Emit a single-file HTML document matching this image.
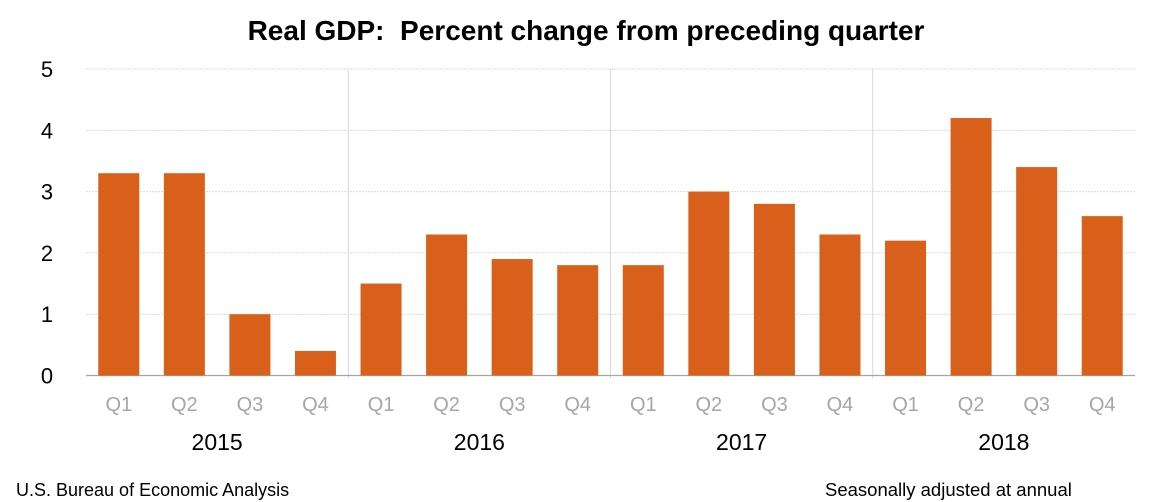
<!DOCTYPE html>
<html><head><meta charset="utf-8">
<style>
body{margin:0;background:#fff;}
svg{display:block;font-family:"Liberation Sans",sans-serif;}
</style></head>
<body>
<svg id="chart" width="1153" height="502" viewBox="0 0 1153 502">
<text x="586" y="40" text-anchor="middle" font-size="28" font-weight="bold" fill="#000" style="white-space:pre">Real GDP:  Percent change from preceding quarter</text>
<g id="grid"></g><g id="bars"></g><g id="labels"></g>
<text x="16" y="496" font-size="18" fill="#000">U.S. Bureau of Economic Analysis</text>
<text x="825" y="496" font-size="18.5" fill="#000">Seasonally adjusted at annual</text>
</svg>
<script>
const quarters=["Q1","Q2","Q3","Q4","Q1","Q2","Q3","Q4","Q1","Q2","Q3","Q4","Q1","Q2","Q3","Q4"];
const years=["2015","2016","2017","2018"];
const values=[3.3,3.3,1.0,0.4,1.5,2.3,1.9,1.8,1.8,3.0,2.8,2.3,2.2,4.2,3.4,2.6];
const yTicks=[0,1,2,3,4,5];
const NS="http://www.w3.org/2000/svg";
const x0=86,x1=1135,y0=375.5,yTop=69;
const slot=(x1-x0)/quarters.length;
const yS=v=>y0-(v/5)*(y0-yTop);
const xS=i=>x0+slot*(i+0.5);
function mk(tag,attrs,parent,txt){const e=document.createElementNS(NS,tag);for(const k in attrs)e.setAttribute(k,attrs[k]);if(txt!=null)e.textContent=txt;document.getElementById(parent).appendChild(e);return e;}
yTicks.forEach(t=>{
  if(t>0){const g=mk('line',{x1:x0,x2:x1,y1:yS(t),y2:yS(t),stroke:'#d9d9d9','stroke-dasharray':'2,1','stroke-width':1},'grid');
  
  }
  const l=mk('text',{x:47,y:yS(t)+8,'text-anchor':'middle','font-size':22,fill:'#000'},'labels',t);
  
  
});
for(let k=1;k<years.length;k++){
  const xs=x0+slot*4*k;
  const s=mk('line',{x1:xs,x2:xs,y1:yTop,y2:y0+3,stroke:'#d9d9d9','stroke-width':1},'grid');
  
  
}
const ax=mk('line',{x1:x0,x2:x1,y1:y0,y2:y0,stroke:'#a6a6a6','stroke-width':1.2},'grid');


const bw=41;
values.forEach((v,i)=>{
  const b=mk('rect',{x:xS(i)-bw/2,y:yS(v),width:bw,height:y0-yS(v),fill:'#D9601A'},'bars');
  
  
  const q=mk('text',{x:xS(i),y:411,'text-anchor':'middle','font-size':20,fill:'#a6a6a6'},'labels',quarters[i]);
  
  
});
years.forEach((y,k)=>{
  const t=mk('text',{x:x0+slot*(4*k+2),y:450,'text-anchor':'middle','font-size':23,fill:'#000'},'labels',y);
  
  
});
</script>
</body></html>
